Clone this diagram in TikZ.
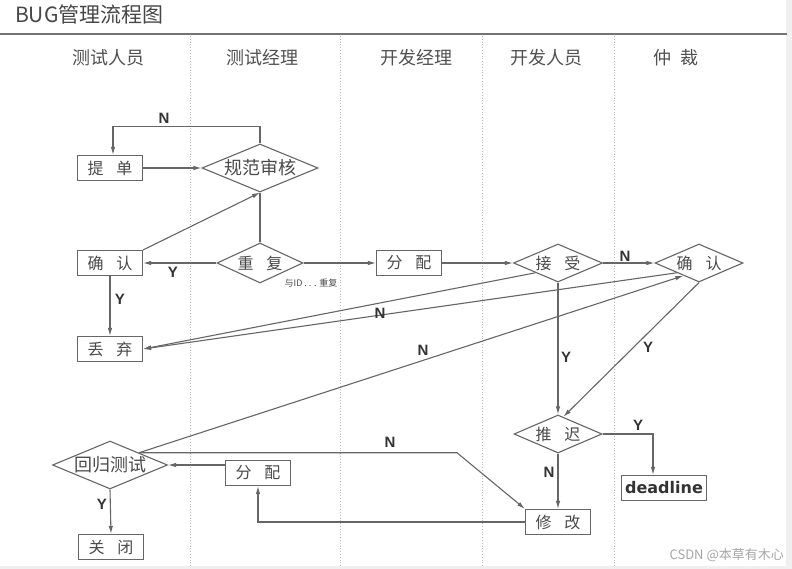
\documentclass[tikz,border=0pt]{standalone}
\usepackage{fontspec}
\setmainfont{Liberation Sans}
\newfontfamily\cjk{Noto Sans CJK SC}
\newfontfamily\djv{DejaVu Sans}
\usetikzlibrary{shapes.geometric,arrows.meta,calc}
\definecolor{lc}{HTML}{666666}
\definecolor{tc}{HTML}{4A4A4A}
\definecolor{hc}{HTML}{505050}
\definecolor{sepc}{HTML}{BBBBBB}
\newcommand\gapc{\hspace{13pt}}
\begin{document}
\begin{tikzpicture}[x=1pt,y=-1pt,
  conn/.style={draw=lc, line width=1.1pt},
  arr/.style={conn, -{Latex[length=8pt,width=4.5pt]}},
  box/.style={draw=lc, line width=1.1pt, rectangle, minimum width=65pt, minimum height=25pt, inner sep=0pt, text=tc, font=\cjk\fontsize{16}{16}\selectfont},
  dia/.style={draw=lc, line width=1.1pt, diamond, aspect=2.3, inner sep=0pt, text=tc, font=\cjk\fontsize{16}{16}\selectfont},
  dia4/.style={dia, font=\cjk\fontsize{18}{18}\selectfont, minimum width=116pt, minimum height=47pt},
  lbl/.style={text=black!80, font=\bfseries\fontsize{15}{15}\selectfont, inner sep=0pt},
  lane/.style={text=hc, font=\cjk\fontsize{18}{18}\selectfont},
  sepl/.style={draw=sepc, line width=0.8pt, dotted}
]
\useasboundingbox (0,0) rectangle (792,569);
\fill[white] (0,0) rectangle (792,569);
\fill[black!6] (786,0) rectangle (792,569);
\fill[black!6] (0,566) rectangle (786,569);

% title and header
\node[anchor=west, text=black!72, font=\cjk\fontsize{21}{21}\selectfont, inner sep=0pt] (title) at (15,14) {BUG管理流程图};
\draw[draw=black!55, line width=1.8pt] (0,34) -- (787,34);
\foreach \x in {190,340,482,614} \draw[sepl] (\x,36) -- (\x,566);
\node[lane] (h1) at (108,58) {测试人员};
\node[lane] (h2) at (262,58) {测试经理};
\node[lane] (h3) at (416,58) {开发经理};
\node[lane] (h4) at (546,58) {开发人员};
\node[lane] (h5) at (676,58) {仲\hspace{10pt}裁};

% nodes
\node[box] (ti) at (110,168) {提\gapc 单};
\node[dia4] (gf) at (260,168) {规范审核};
\node[box] (qr) at (110,263) {确\gapc 认};
\node[dia, minimum width=86pt, minimum height=40pt] (cf) at (260,263) {重\gapc 复};
\node[text=tc, font=\cjk\fontsize{9}{9}\selectfont, inner sep=0pt] (dupnote) at (311,283) {与ID . . . 重复};
\node[box] (fp) at (409,263) {分\gapc 配};
\node[dia, minimum width=89pt, minimum height=38pt] (js) at (558,263) {接\gapc 受};
\node[dia, minimum width=88pt, minimum height=38pt] (ca) at (699,263) {确\gapc 认};
\node[box] (dq) at (110,349) {丢\gapc 弃};
\node[dia4, minimum width=115pt] (hg) at (110,465) {回归测试};
\node[box] (fp2) at (258,473) {分\gapc 配};
\node[dia, minimum width=88pt, minimum height=38pt] (ty) at (558,434) {推\gapc 迟};
\node[box, minimum width=85pt, font=\djv\bfseries\fontsize{16}{16}\selectfont, text=black!80] (dl) at (664,488) {deadline};
\node[box] (mo) at (558,522) {修\gapc 改};
\node[box] (gb) at (111,547) {关\gapc 闭};

% connectors
\draw[arr] (gf.north) -- ++(0,-17) -| ([xshift=3pt]ti.north);
\node[lbl] at (164,118) {N};
\draw[arr] (ti.east) -- (gf.west);
\draw[arr] (qr.north east) -- (gf.south);
\draw[conn] (cf.north) -- (gf.south);
\draw[arr] (cf.west) -- (qr.east);
\node[lbl] at (173,272) {Y};
\draw[arr] (cf.east) -- (fp.west);
\draw[arr] (fp.east) -- (js.west);
\draw[arr] (js.east) -- (ca.west);
\node[lbl] at (625,256) {N};
\draw[arr] (js.south west) -- (dq.east);
\draw[arr] (ca.south west) -- (dq.east);
\node[lbl] at (380,313) {N};
\draw[arr] (hg.north east) -- ($(ca.south west)!0.3!(ca.south)$);
\node[lbl] at (423,350) {N};
\draw[arr] (js.south) -- (ty.north);
\node[lbl] at (566,357) {Y};
\draw[arr] (ca.south) -- ($(ty.north)!0.12!(ty.east)$);
\node[lbl] at (648,347) {Y};
\draw[arr] (ty.east) -| ([xshift=-11pt]dl.north);
\node[lbl] at (638,425) {Y};
\draw[arr] (ty.south) -- (mo.north);
\node[lbl] at (549,472) {N};
\coordinate (bend) at (457,452);
\draw[arr] (hg.north east) -- (hg.north east -| bend) -- (mo.north west);
\node[lbl] at (390,442) {N};
\draw[arr] (mo.west) -| (fp2.south);
\draw[arr] (fp2.west |- hg.east) -- (hg.east);
\draw[arr] (qr.south) -- (dq.north);
\node[lbl] at (120,299) {Y};
\draw[arr] (hg.south) -- (gb.north);
\node[lbl] at (102,504) {Y};

\node[anchor=east, text=black!35, font=\cjk\fontsize{13}{13}\selectfont, inner sep=0pt] (wm) at (784,555) {CSDN @本草有木心};
\end{tikzpicture}
\end{document}
